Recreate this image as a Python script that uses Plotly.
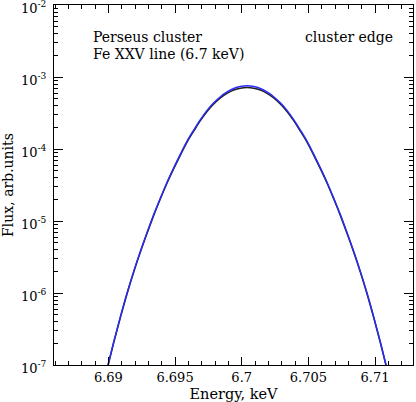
import plotly.graph_objects as go

# energy grid (keV)
energy = [6.6894, 6.6899, 6.6904, 6.6909, 6.6914, 6.6919, 6.6924, 6.6929, 6.6934,
          6.6939, 6.6944, 6.6949, 6.6954, 6.6959, 6.6964, 6.6969, 6.6974, 6.6979,
          6.6984, 6.6989, 6.6994, 6.6999, 6.7004, 6.7009, 6.7014, 6.7019, 6.7024,
          6.7029, 6.7034, 6.7039, 6.7044, 6.7049, 6.7054, 6.7059, 6.7064, 6.7069,
          6.7074, 6.7079, 6.7084, 6.7089, 6.7094, 6.7099, 6.7104, 6.7109, 6.7114]

# cluster centre (blue) line profile
flux_center = [3.7e-8, 8.9e-8, 2.09e-7, 4.68e-7, 1.0e-6, 2.0e-6, 3.8e-6, 6.92e-6, 1.23e-5,
               2.09e-5, 3.47e-5, 5.5e-5, 8.51e-5, 1.29e-4, 1.84e-4, 2.57e-4, 3.45e-4, 4.39e-4,
               5.35e-4, 6.22e-4, 6.95e-4, 7.42e-4, 7.59e-4, 7.42e-4, 6.95e-4, 6.22e-4, 5.35e-4,
               4.39e-4, 3.45e-4, 2.57e-4, 1.84e-4, 1.29e-4, 8.51e-5, 5.5e-5, 3.47e-5, 2.09e-5,
               1.23e-5, 6.92e-6, 3.8e-6, 2.0e-6, 1.0e-6, 4.68e-7, 2.09e-7, 8.9e-8, 3.7e-8]

# cluster edge (black) line profile
flux_edge = [3.6e-8, 8.7e-8, 2.05e-7, 4.59e-7, 9.8e-7, 1.96e-6, 3.71e-6, 6.75e-6, 1.2e-5,
             2.04e-5, 3.38e-5, 5.35e-5, 8.27e-5, 1.25e-4, 1.78e-4, 2.49e-4, 3.33e-4, 4.23e-4,
             5.14e-4, 5.94e-4, 6.6e-4, 7.01e-4, 7.16e-4, 7.01e-4, 6.6e-4, 5.94e-4, 5.14e-4,
             4.23e-4, 3.33e-4, 2.49e-4, 1.78e-4, 1.25e-4, 8.27e-5, 5.35e-5, 3.38e-5, 2.04e-5,
             1.2e-5, 6.75e-6, 3.71e-6, 1.96e-6, 9.8e-7, 4.59e-7, 2.05e-7, 8.7e-8, 3.6e-8]

x_ticks = [6.69, 6.695, 6.7, 6.705, 6.71]
x_ticktext = ["6.69", "6.695", "6.7", "6.705", "6.71"]
y_ticks = [1e-7, 1e-6, 1e-5, 1e-4, 1e-3, 1e-2]
y_ticktext = ["10<sup>-7</sup>", "10<sup>-6</sup>", "10<sup>-5</sup>",
              "10<sup>-4</sup>", "10<sup>-3</sup>", "10<sup>-2</sup>"]

FONT = "DejaVu Serif"

fig = go.Figure()
fig.add_trace(go.Scatter(x=energy, y=flux_edge, mode="lines", line_shape="spline",
                         line=dict(color="#222222", width=1.6)))
fig.add_trace(go.Scatter(x=energy, y=flux_center, mode="lines", line_shape="spline",
                         line=dict(color="#2a2aff", width=1.4)))

axis_common = dict(showline=True, linecolor="black", linewidth=1, mirror="allticks",
                   ticks="inside", tickcolor="black", showgrid=False, zeroline=False,
                   automargin=False, ticklabeloverflow="allow",
                   tickfont=dict(family=FONT, size=13, color="black"))

fig.update_xaxes(range=[6.68592, 6.71285], tickvals=x_ticks, ticktext=x_ticktext,
                 ticklen=8, tickwidth=1,
                 minor=dict(ticks="inside", dtick=0.001, ticklen=4, tickcolor="black",
                            showgrid=False),
                 title=dict(text="Energy, keV", font=dict(family=FONT, size=14.5, color="black")),
                 **axis_common)
fig.update_yaxes(type="log", range=[-7, -1.998], tickvals=y_ticks, ticktext=y_ticktext,
                 ticklen=9, tickwidth=1, ticklabelshift=3, ticklabelstandoff=4,
                 minor=dict(ticks="inside", dtick="D1", ticklen=4, tickcolor="black",
                            showgrid=False),
                 title=dict(text="Flux, arb.units", font=dict(family=FONT, size=14, color="black")),
                 **axis_common)

fig.add_annotation(x=0.103, y=0.91, xref="paper", yref="paper", xanchor="left",
                   yanchor="middle", text="Perseus cluster", showarrow=False,
                   font=dict(family=FONT, size=14, color="black"))
fig.add_annotation(x=0.103, y=0.864, xref="paper", yref="paper", xanchor="left",
                   yanchor="middle", text="Fe XXV line (6.7 keV)", showarrow=False,
                   font=dict(family=FONT, size=14, color="black"))
fig.add_annotation(x=0.95, y=0.91, xref="paper", yref="paper", xanchor="right",
                   yanchor="middle", text="cluster edge", showarrow=False,
                   font=dict(family=FONT, size=14, color="black"))

fig.update_layout(width=416, height=402, showlegend=False,
                  margin=dict(l=54, r=3, t=5, b=37),
                  paper_bgcolor="white", plot_bgcolor="white")

fig.write_html("out.html", config={"displayModeBar": False},
               post_script="document.body.style.margin='0';")
